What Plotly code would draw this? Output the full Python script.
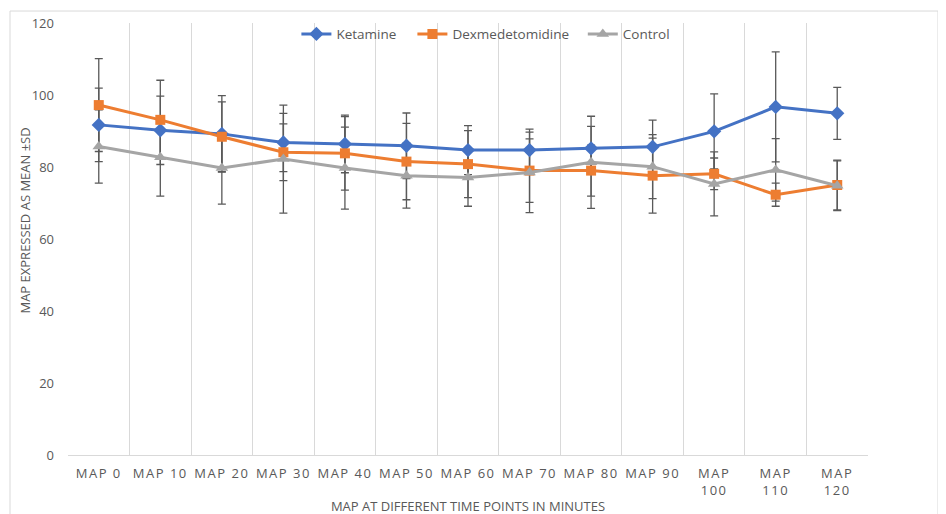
import plotly.graph_objects as go

categories = ["MAP 0", "MAP 10", "MAP 20", "MAP 30", "MAP 40", "MAP 50", "MAP 60",
              "MAP 70", "MAP 80", "MAP 90", "MAP<br>100", "MAP<br>110", "MAP<br>120"]

ketamine = [91.7, 90.2, 89.2, 86.8, 86.4, 85.9, 84.7, 84.7, 85.2, 85.6, 89.9, 96.7, 94.9]
ketamine_sd = [10.2, 9.5, 10.6, 8.1, 8.0, 9.1, 6.8, 5.8, 6.1, 7.4, 10.4, 15.3, 7.2]

dexmedetomidine = [97.2, 93.1, 88.4, 84.1, 83.8, 81.5, 80.8, 79.0, 79.0, 77.6, 78.1, 72.3, 75.0]
dexmedetomidine_sd = [12.9, 11.0, 9.7, 7.9, 10.2, 10.6, 9.3, 8.8, 7.1, 10.4, 4.4, 3.2, 6.9]

control = [85.7, 82.7, 79.7, 82.2, 79.7, 77.6, 77.1, 78.5, 81.3, 80.1, 75.3, 79.2, 74.8]
control_sd = [10.2, 10.8, 10.0, 15.0, 11.4, 9.0, 8.0, 11.2, 12.8, 8.9, 8.9, 8.7, 6.9]

y_ticks = [0, 20, 40, 60, 80, 100, 120]

series = [
    ("Ketamine", ketamine, ketamine_sd, "#4472C4", "diamond", 11, "legend", 0.2855),
    ("Dexmedetomidine", dexmedetomidine, dexmedetomidine_sd, "#ED7D31", "square", 10, "legend2", 0.4305),
    ("Control", control, control_sd, "#A5A5A5", "triangle-up", 11, "legend3", 0.6435),
]

FONT = "Open Sans"
TXT = "#595959"

# plot area in figure pixels (page body adds an 8px offset)
L, R, T, B = 60, 860, 14, 447
W, H = R - L, B - T

fig = go.Figure()

# error bars drawn first so the markers sit above them
for name, vals, sd, color, sym, size, lg, lx in series:
    fig.add_trace(go.Scatter(
        x=categories, y=vals, mode="markers",
        marker=dict(size=2, opacity=0),
        error_y=dict(type="data", array=sd, visible=True, color="#595959",
                     thickness=1.3, width=4),
        showlegend=False, hoverinfo="skip"))

legends = {}
for name, vals, sd, color, sym, size, lg, lx in series:
    fig.add_trace(go.Scatter(
        x=categories, y=vals, mode="lines+markers", name=name, legend=lg,
        line=dict(color=color, width=3),
        marker=dict(symbol=sym, size=size, color=color)))
    legends[lg] = dict(orientation="h", x=lx, xanchor="left", y=0.972, yanchor="middle",
                       bgcolor="rgba(0,0,0,0)", font=dict(size=13.5, color=TXT))

fig.update_layout(
    width=946, height=514,
    margin=dict(l=L, r=946 - R, t=T, b=514 - B),
    paper_bgcolor="white", plot_bgcolor="white",
    font=dict(family=FONT, size=13, color=TXT),
    showlegend=True,
    **legends,
    xaxis=dict(type="category", range=[-0.5, 12.5], tickson="boundaries",
               showgrid=True, gridcolor="#D9D9D9", gridwidth=1,
               showline=True, linecolor="#D9D9D9", linewidth=1,
               ticks="", tickfont=dict(size=13, color=TXT), tickangle=0,
               ticklabelstandoff=6, automargin=False,
               title=dict(text="MAP AT DIFFERENT TIME POINTS IN MINUTES",
                          font=dict(size=13, color=TXT), standoff=4),
               zeroline=False),
    yaxis=dict(range=[0, 120], tickvals=y_ticks, showgrid=False, zeroline=False,
               showline=False, ticks="", ticklabelstandoff=13, automargin=False,
               tickfont=dict(size=13, color=TXT)),
    shapes=[dict(type="rect", xref="paper", yref="paper",
                 x0=(2 - L) / W, x1=(930 - L) / W,
                 y0=(B - 540) / H, y1=(B - 2) / H,
                 line=dict(color="#D9D9D9", width=1), layer="below")],
    annotations=[dict(text="MAP EXPRESSED AS MEAN ±SD", xref="paper", yref="paper",
                      x=(17 - L) / W, y=(B - 212) / H, textangle=-90,
                      showarrow=False, font=dict(size=13, color=TXT),
                      xanchor="center", yanchor="middle")],
)

post = ("document.querySelectorAll('.xtick text').forEach(function(t){"
        "t.style.letterSpacing='1.5px';});")

fig.write_html("out.html", post_script=post)
